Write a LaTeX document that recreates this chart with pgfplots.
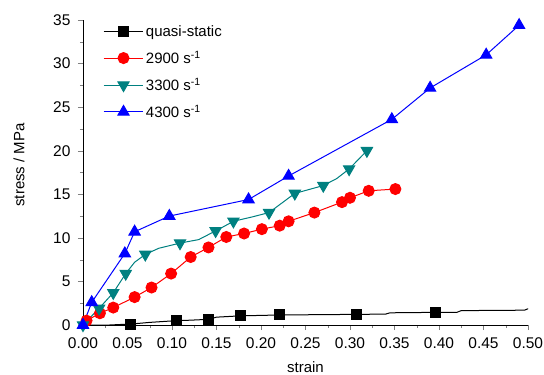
\documentclass[border=0pt]{standalone}
\usepackage{fontspec}
\setmainfont{Liberation Sans}
\usepackage{pgfplots}
\pgfplotsset{compat=1.18}
\definecolor{tealc}{RGB}{0,128,128}
\begin{document}
\begin{tikzpicture}
\begin{axis}[
  scale only axis,
  width=445pt, height=305pt,
  xmin=0, xmax=0.5, ymin=0, ymax=35,
  axis lines*=left,
  tick align=outside,
  major tick length=5pt, minor tick length=3pt,
  xtick={0,0.05,...,0.501},
  ytick={0,5,...,35},
  minor x tick num=1, minor y tick num=1,
  xticklabel style={yshift=-4pt,/pgf/number format/.cd,fixed,fixed zerofill,precision=2},
  /pgf/number format/assume math mode=true,
  tick label style={font=\fontsize{15.5}{18}\selectfont},
  yticklabel style={xshift=-4pt},
  label style={font=\fontsize{15}{18}\selectfont},
  xlabel={strain}, ylabel={stress / MPa},
  xlabel style={yshift=-6pt},
  ylabel style={at={(axis description cs:-0.144,0.525)}, anchor=center, rotate=0},
  legend style={draw=none, fill=none, at={(0.038,0.995)}, anchor=north west,
    font=\fontsize{15}{18}\selectfont, row sep=9pt, legend cell align=left},
  legend image code/.code={\draw[#1,mark indices={2}] plot coordinates {(0cm,0cm) (0.7cm,0cm) (1.4cm,0cm)};},
  every axis plot/.append style={line width=1pt},
]
\addplot[black, mark=square*, mark size=5pt, mark options={solid},
  mark indices={4,6,8,10,11,12,15}] coordinates {
(0,0) (0.03,0) (0.04,0.05) (0.053,0.1) (0.075,0.3) (0.105,0.5) (0.12,0.55) (0.141,0.65)
(0.15,0.9) (0.177,1.05) (0.221,1.15) (0.307,1.22) (0.34,1.25) (0.345,1.4) (0.396,1.45)
(0.42,1.45) (0.425,1.65) (0.496,1.7) (0.501,1.9)};
\addlegendentry{quasi-static}
\addplot[red, mark=*, mark size=5.5pt, mark indices={2,3,4,5,6,7,8,9,10,11,12,13,14,15,16,17,18,19}] coordinates {
(0,0) (0.004,0.5) (0.019,1.35) (0.034,2.0) (0.058,3.2) (0.077,4.3) (0.099,5.9) (0.121,7.8)
(0.141,8.9) (0.161,10.1) (0.181,10.5) (0.201,11.0) (0.221,11.4) (0.231,11.9) (0.26,12.9)
(0.291,14.1) (0.30,14.6) (0.321,15.4) (0.351,15.6)};
\addlegendentry{2900 s\textsuperscript{-1}}
\addplot[tealc, mark=triangle*, mark size=6.5pt, mark options={rotate=180},
  mark indices={1,2,3,4,6,8,10,12,14,15,16,18,19}] coordinates {
(0,0) (0.018,1.9) (0.034,3.7) (0.048,5.9) (0.058,7.2) (0.07,8.1) (0.085,8.8) (0.109,9.4)
(0.13,9.8) (0.149,10.8) (0.16,11.4) (0.169,11.9) (0.19,12.4) (0.209,12.9) (0.238,15.1)
(0.27,16.0) (0.285,16.8) (0.299,17.9) (0.319,20.0)};
\addlegendentry{3300 s\textsuperscript{-1}}
\addplot[blue, mark=triangle*, mark size=6.5pt] coordinates {
(0,0) (0.0098,2.6) (0.047,8.2) (0.058,10.7) (0.097,12.5) (0.186,14.4) (0.231,17.1)
(0.347,23.6) (0.39,27.2) (0.453,31.0) (0.49,34.4)};
\addlegendentry{4300 s\textsuperscript{-1}}
\end{axis}
\pgfresetboundingbox
\path[use as bounding box] (-83pt,-50pt) rectangle (461pt,325pt);
\end{tikzpicture}
\end{document}
